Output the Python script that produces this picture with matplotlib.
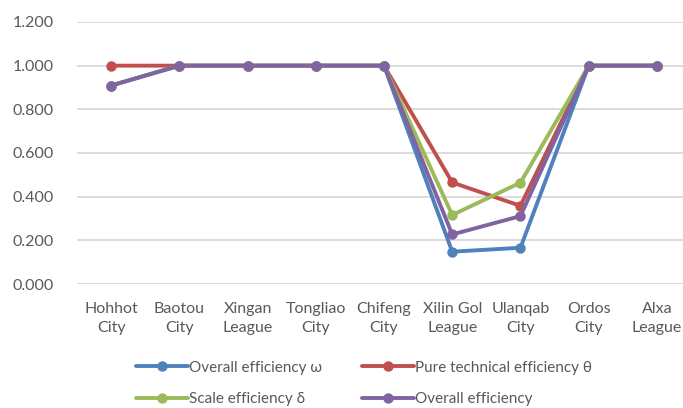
import numpy as np
import matplotlib
matplotlib.use("Agg")
import matplotlib.pyplot as plt

plt.rcParams['font.family'] = ['Lato', 'DejaVu Sans']

cities = ["Hohhot\nCity", "Baotou\nCity", "Xingan\nLeague", "Tongliao\nCity", "Chifeng\nCity",
          "Xilin Gol\nLeague", "Ulanqab\nCity", "Ordos\nCity", "Alxa\nLeague"]
overall_w = [0.909, 1.0, 1.0, 1.0, 1.0, 0.148, 0.166, 1.0, 1.0]
pure_tech = [1.0, 1.0, 1.0, 1.0, 1.0, 0.465, 0.358, 1.0, 1.0]
scale_eff = [0.909, 1.0, 1.0, 1.0, 1.0, 0.316, 0.464, 1.0, 1.0]
overall = [0.909, 1.0, 1.0, 1.0, 1.0, 0.227, 0.311, 1.0, 1.0]

labels = ["Overall efficiency ω", "Pure technical efficiency θ",
          "Scale efficiency δ", "Overall efficiency"]
colors = ["#4F81BD", "#C0504D", "#9BBB59", "#8064A2"]

W, H = 683, 408
fig = plt.figure(figsize=(W / 100, H / 100), dpi=100)
ax = fig.add_axes([77 / W, 1 - 284 / H, (691 - 77) / W, (284 - 22) / H])

x = np.arange(len(cities))
lines = []
for vals, lab, c in zip([overall_w, pure_tech, scale_eff, overall], labels, colors):
    ln, = ax.plot(x, vals, color=c, lw=2.8, marker='o', markersize=6.5, label=lab,
                  solid_capstyle='round', zorder=3)
    lines.append(ln)

ax.set_xlim(-0.5, len(cities) - 0.5)
ax.set_ylim(0, 1.2)
ax.set_yticks(np.arange(0, 1.21, 0.2))
ax.set_yticklabels(["%.3f" % v for v in np.arange(0, 1.21, 0.2)])
ax.set_xticks(x)
ax.set_xticklabels(cities, linespacing=1.45)
ax.tick_params(axis='both', length=0, labelsize=11.5, colors='#595959')
ax.tick_params(axis='x', pad=13)
ax.tick_params(axis='y', pad=17)
ax.grid(axis='y', color='#D9D9D9', lw=1.3)
ax.set_axisbelow(True)
for s in ax.spines.values():
    s.set_visible(False)

# legend filled row by row like the original
order = [0, 2, 1, 3]
fig.legend([lines[i] for i in order], [labels[i] for i in order],
           loc='upper left', bbox_to_anchor=(122 / W, 1 - 347 / H), ncol=2,
           frameon=False, fontsize=11, handlelength=3.4, handletextpad=0.1,
           columnspacing=2.6, labelspacing=1.15, labelcolor='#595959')

fig.savefig("out.png", dpi=100)
